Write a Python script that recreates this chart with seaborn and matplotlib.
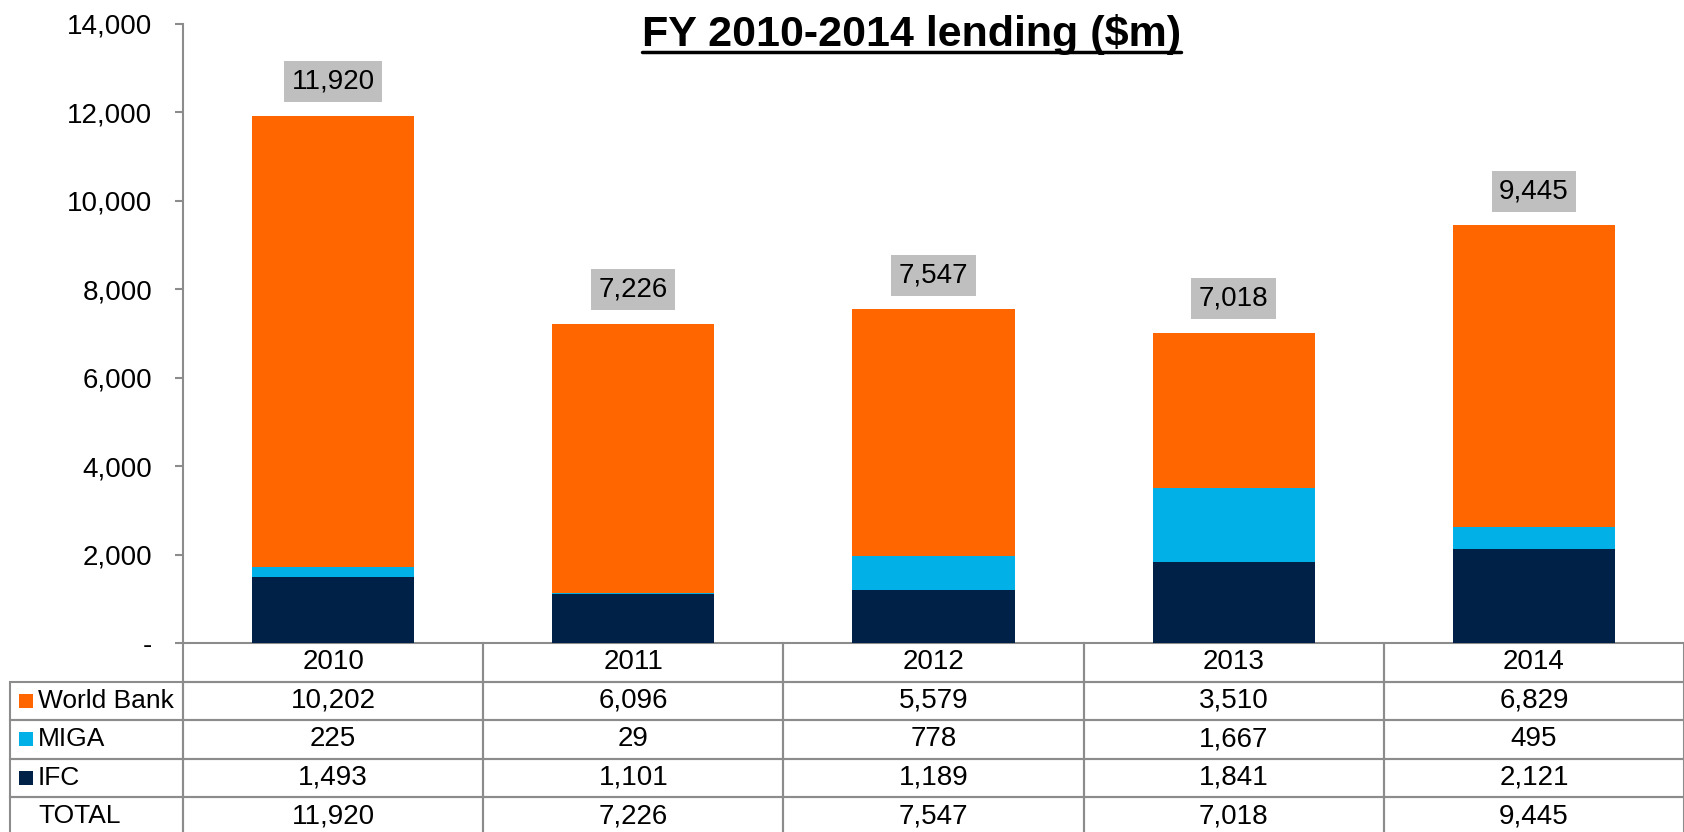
import numpy as np
import pandas as pd
import matplotlib
matplotlib.use("Agg")
import matplotlib.pyplot as plt
from matplotlib.lines import Line2D
import seaborn as sns

years = ["2010", "2011", "2012", "2013", "2014"]
world_bank = [10202, 6096, 5579, 3510, 6829]
miga = [225, 29, 778, 1667, 495]
ifc = [1493, 1101, 1189, 1841, 2121]
totals = [11920, 7226, 7547, 7018, 9445]

series_names = ["World Bank", "MIGA", "IFC"]
colors = {"World Bank": "#FF6600", "MIGA": "#00B0E6", "IFC": "#002147"}
edge_grey = "#8C8C8C"

sns.set_style("white")
plt.rcParams["font.family"] = ["Liberation Sans", "DejaVu Sans"]
plt.rcParams["text.color"] = "black"
plt.rcParams["ytick.labelcolor"] = "black"

df = pd.DataFrame({"year": years, "World Bank": world_bank, "MIGA": miga, "IFC": ifc})
df["ifc_miga"] = df["IFC"] + df["MIGA"]
df["all"] = df["ifc_miga"] + df["World Bank"]

fig = plt.figure(figsize=(16.84, 8.32), dpi=100)
ax = fig.add_axes([183 / 1684, 1 - 643 / 832, 1 - 183 / 1684, 619 / 832])

# stacked look by overlapping cumulative bars
for col, name in [("all", "World Bank"), ("ifc_miga", "MIGA"), ("IFC", "IFC")]:
    sns.barplot(data=df, x="year", y=col, color=colors[name], width=0.54,
                saturation=1, ax=ax, order=years, linewidth=0)

ax.set_xlim(-0.5, 4.5)
ax.set_ylim(0, 14000)
ax.set_yticks(range(0, 14001, 2000))
ax.set_yticklabels(["-" if v == 0 else f"{v:,}" for v in range(0, 14001, 2000)])
ax.tick_params(axis="y", labelsize=20, length=6, width=1.5, color=edge_grey,
               direction="out", left=True, pad=16, labelcolor="black")
ax.set_xticks([])
ax.set_xlabel("")
ax.set_ylabel("")
sns.despine(ax=ax, top=True, right=True)
ax.spines["left"].set_color(edge_grey)
ax.spines["left"].set_linewidth(1.5)
ax.spines["bottom"].set_visible(False)

# total labels in grey boxes
for i, t in enumerate(totals):
    ax.annotate(f"{t:,}", (i, t), xytext=(0, 24.5), textcoords="offset points",
                ha="center", va="center", fontsize=20, color="black",
                bbox=dict(boxstyle="square,pad=0.27", fc="#BFBFBF", ec="none"))

# data table underneath
rows = [[""] + years]
for name, vals in zip(series_names, [world_bank, miga, ifc]):
    rows.append([name] + [f"{v:,}" for v in vals])
rows.append(["TOTAL"] + [f"{v:,}" for v in totals])

label_w = 173 / 1501
row_h = 38.5 / 619
n_rows = len(rows)
tbl = ax.table(cellText=rows, colWidths=[label_w] + [0.2] * 5, cellLoc="center",
               bbox=[-label_w, -row_h * n_rows, 1 + label_w, row_h * n_rows])
tbl.auto_set_font_size(False)
tbl.set_fontsize(20)
for (r, c), cell in tbl.get_celld().items():
    cell.set_edgecolor(edge_grey)
    cell.set_linewidth(1.5)
    cell.set_facecolor("none")
    cell.get_text().set_fontsize(20)
    cell.get_text().set_color("black")
    if c == 0:
        cell._loc = "left"
        cell.PAD = 28 / 173
        cell.get_text().set_ha("left")
        cell.get_text().set_fontsize(19)
        if r == 0:
            cell.visible_edges = ""

# legend squares in the label column
for k, name in enumerate(series_names):
    ax.scatter([(26 - 183) / 1501], [-(k + 1.5) * row_h], marker="s", s=105,
               color=colors[name], transform=ax.transAxes, clip_on=False,
               linewidths=0)

title = fig.text(911.5 / 1684, 1 - 46 / 832, "FY 2010-2014 lending ($m)",
                 ha="center", va="baseline", fontsize=31, fontweight="bold",
                 color="black")
fig.canvas.draw()
bb = title.get_window_extent().transformed(fig.transFigure.inverted())
fig.add_artist(Line2D([bb.x0, bb.x1], [1 - 52 / 832] * 2, color="black",
                      linewidth=2.5, transform=fig.transFigure))

fig.savefig("out.png", dpi=100)
